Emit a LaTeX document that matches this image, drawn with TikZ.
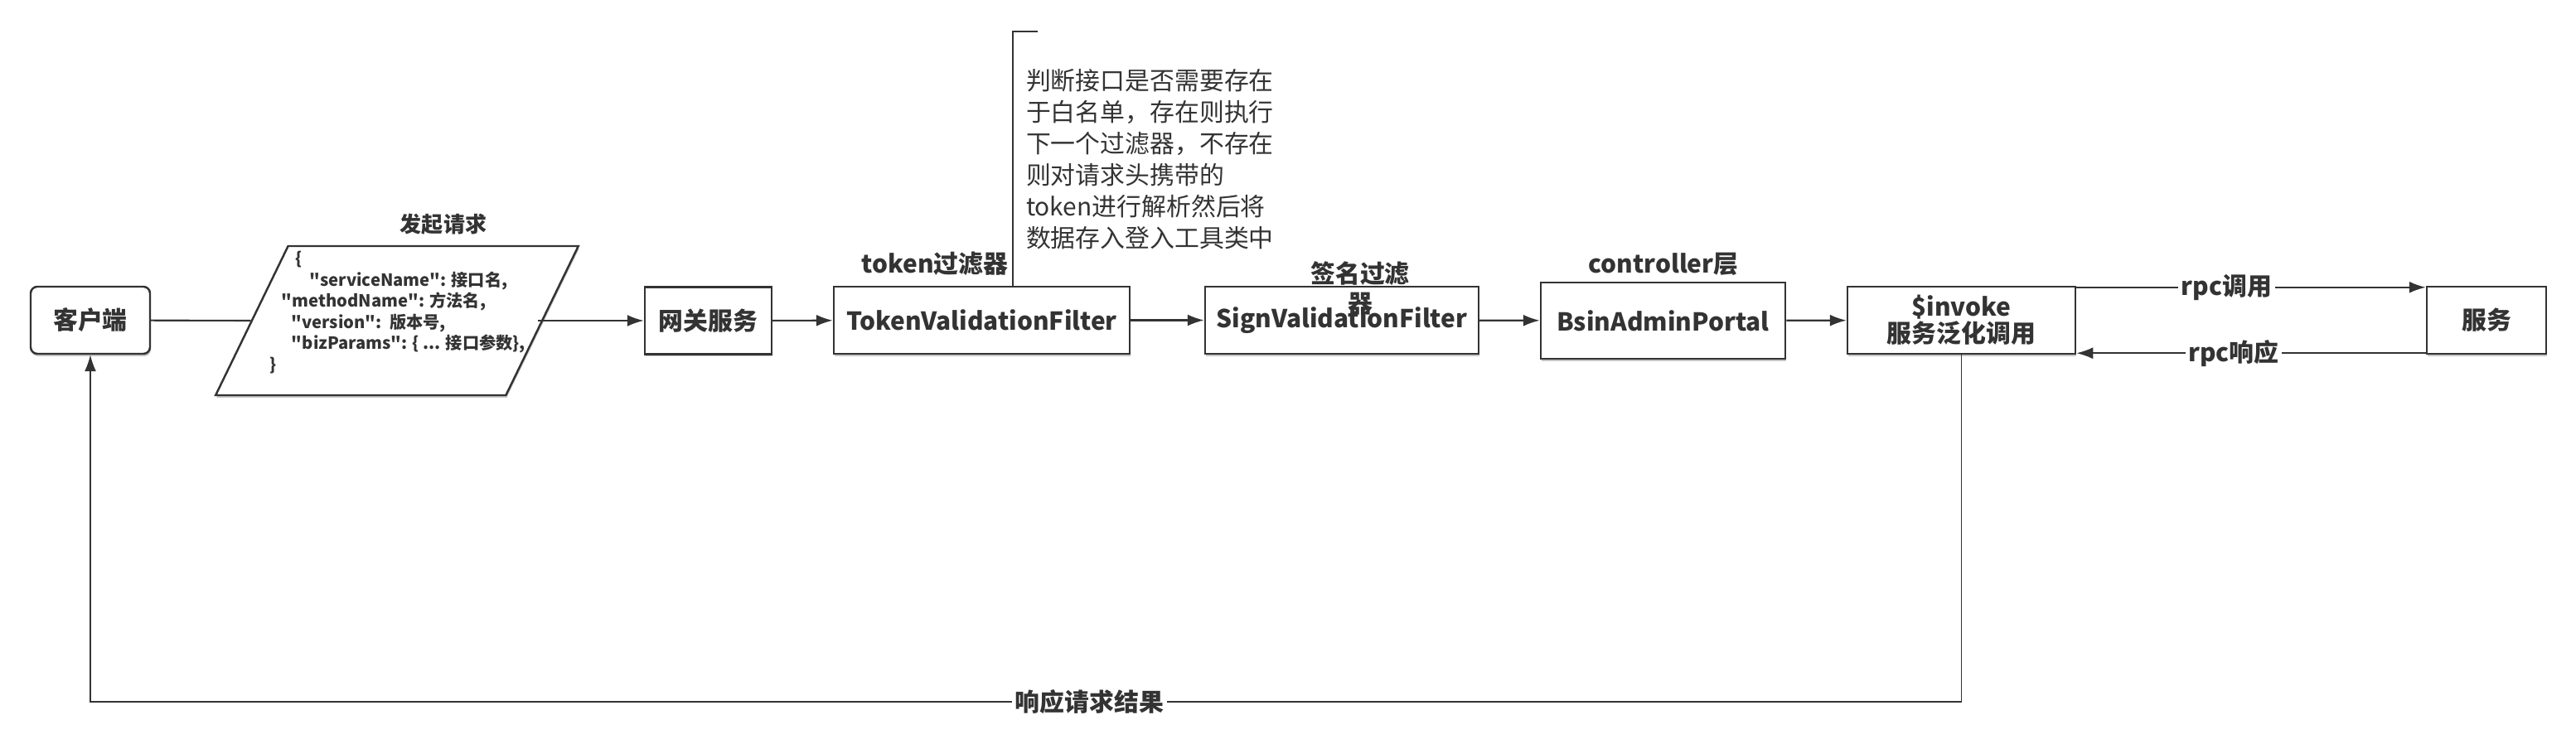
\documentclass[tikz,border=0pt]{standalone}
\usepackage{fontspec}
\setmainfont{Noto Sans CJK SC}
\newfontfamily\jsonfont{Noto Sans CJK SC}
\usetikzlibrary{arrows.meta,shapes.geometric,shadows}
\colorlet{ink}{black!80}

\begin{document}
\begin{tikzpicture}[>={Latex[length=2mm,width=1.4mm]}, color=ink, line width=0.6pt,
  shade/.style={drop shadow={shadow xshift=0.01cm,shadow yshift=-0.03cm,fill=black!45}},
  box/.style={draw=ink, fill=white, line width=0.7pt, shade, minimum height=0.81cm,
    inner sep=0pt, font=\bfseries\fontsize{8.5}{9}\selectfont},
  lbl/.style={font=\bfseries\fontsize{8.5}{10}\selectfont, text=ink},
  onedge/.style={lbl, fill=white, inner sep=1pt}]
  \useasboundingbox (0,0) rectangle (31.08,-9.04);

  \node[box, rounded corners=0.08cm, minimum width=1.44cm] (client) at (1.09,-3.865) {客户端};
  \node[draw=ink, fill=white, line width=0.7pt, shade, trapezium, trapezium left angle=71.6,
    trapezium right angle=108.4, trapezium stretches=true,
    minimum width=4.38cm, minimum height=1.80cm] (req) at (4.79,-3.87) {};
  \node[font=\jsonfont\bfseries\fontsize{5.75}{7.25}\selectfont, align=left] (reqtxt) at (4.80,-3.77)
    {\hspace*{0.31cm}\{\\
     \hspace*{0.48cm}"serviceName": 接口名,\\
     \hspace*{0.14cm}"methodName": 方法名,\\
     \hspace*{0.26cm}"version":\ \ 版本号,\\
     \hspace*{0.26cm}"bizParams": \{ ... 接口参数\},\\
     \}};
  \node[lbl, font=\bfseries\fontsize{7.4}{9}\selectfont] (reqlbl) at (5.35,-2.71) {发起请求};
  \coordinate (reqout) at (6.49,-3.87);

  \node[box, minimum width=1.53cm] (gw) at (8.545,-3.87) {网关服务};
  \node[box, minimum width=3.57cm] (tok) at (11.845,-3.865) {TokenValidationFilter};
  \node[lbl] (toklbl) at (11.28,-3.18) {token过滤器};
  \node[box, minimum width=3.30cm] (sig) at (16.19,-3.865) {SignValidationFilter};
  \node[lbl, align=center] (siglbl) at (16.41,-3.48) {签名过滤\\器};
  \node[box, minimum width=2.95cm, minimum height=0.92cm] (bsin) at (20.065,-3.87) {BsinAdminPortal};
  \node[lbl] (bsinlbl) at (20.07,-3.19) {controller层};
  \node[box, minimum width=2.75cm, align=center] (inv) at (23.665,-3.865) {\$invoke\\服务泛化调用};
  \node[box, minimum width=1.44cm] (svc) at (30.00,-3.865) {服务};

  \node[font=\fontsize{8.5}{10.8}\selectfont, align=left, anchor=west, inner sep=0pt] (note)
    at (12.37,-1.925) {判断接口是否需要存在\\于白名单，存在则执行\\下一个过滤器，不存在\\则对请求头携带的\\token进行解析然后将\\数据存入登入工具类中};
  \draw (12.52,-0.38) -- (12.22,-0.38) -- (12.22,-3.46) -- (12.52,-3.46);

  \draw (client) -- (req.west);
  \draw[->] (reqout) -- (gw);
  \draw[->] (gw) -- (tok);
  \draw[->] (tok) -- (sig);
  \draw[->] (sig) -- (bsin);
  \draw[->] (bsin) -- (inv);
  \draw[->] ([yshift=-0.02cm]inv.north east) -- ([yshift=-0.02cm]svc.north west)
    node[onedge, pos=0.43] {rpc调用};
  \draw[->] ([yshift=0.02cm]svc.south west) -- ([yshift=0.02cm]inv.south east)
    node[onedge, pos=0.55] {rpc响应};
  \draw[->, line width=0.5pt] (inv.south) |- (client.south |- 0,-8.47)
    node[onedge, pos=0.733] {响应请求结果} -- (client.south);
\end{tikzpicture}
\end{document}
